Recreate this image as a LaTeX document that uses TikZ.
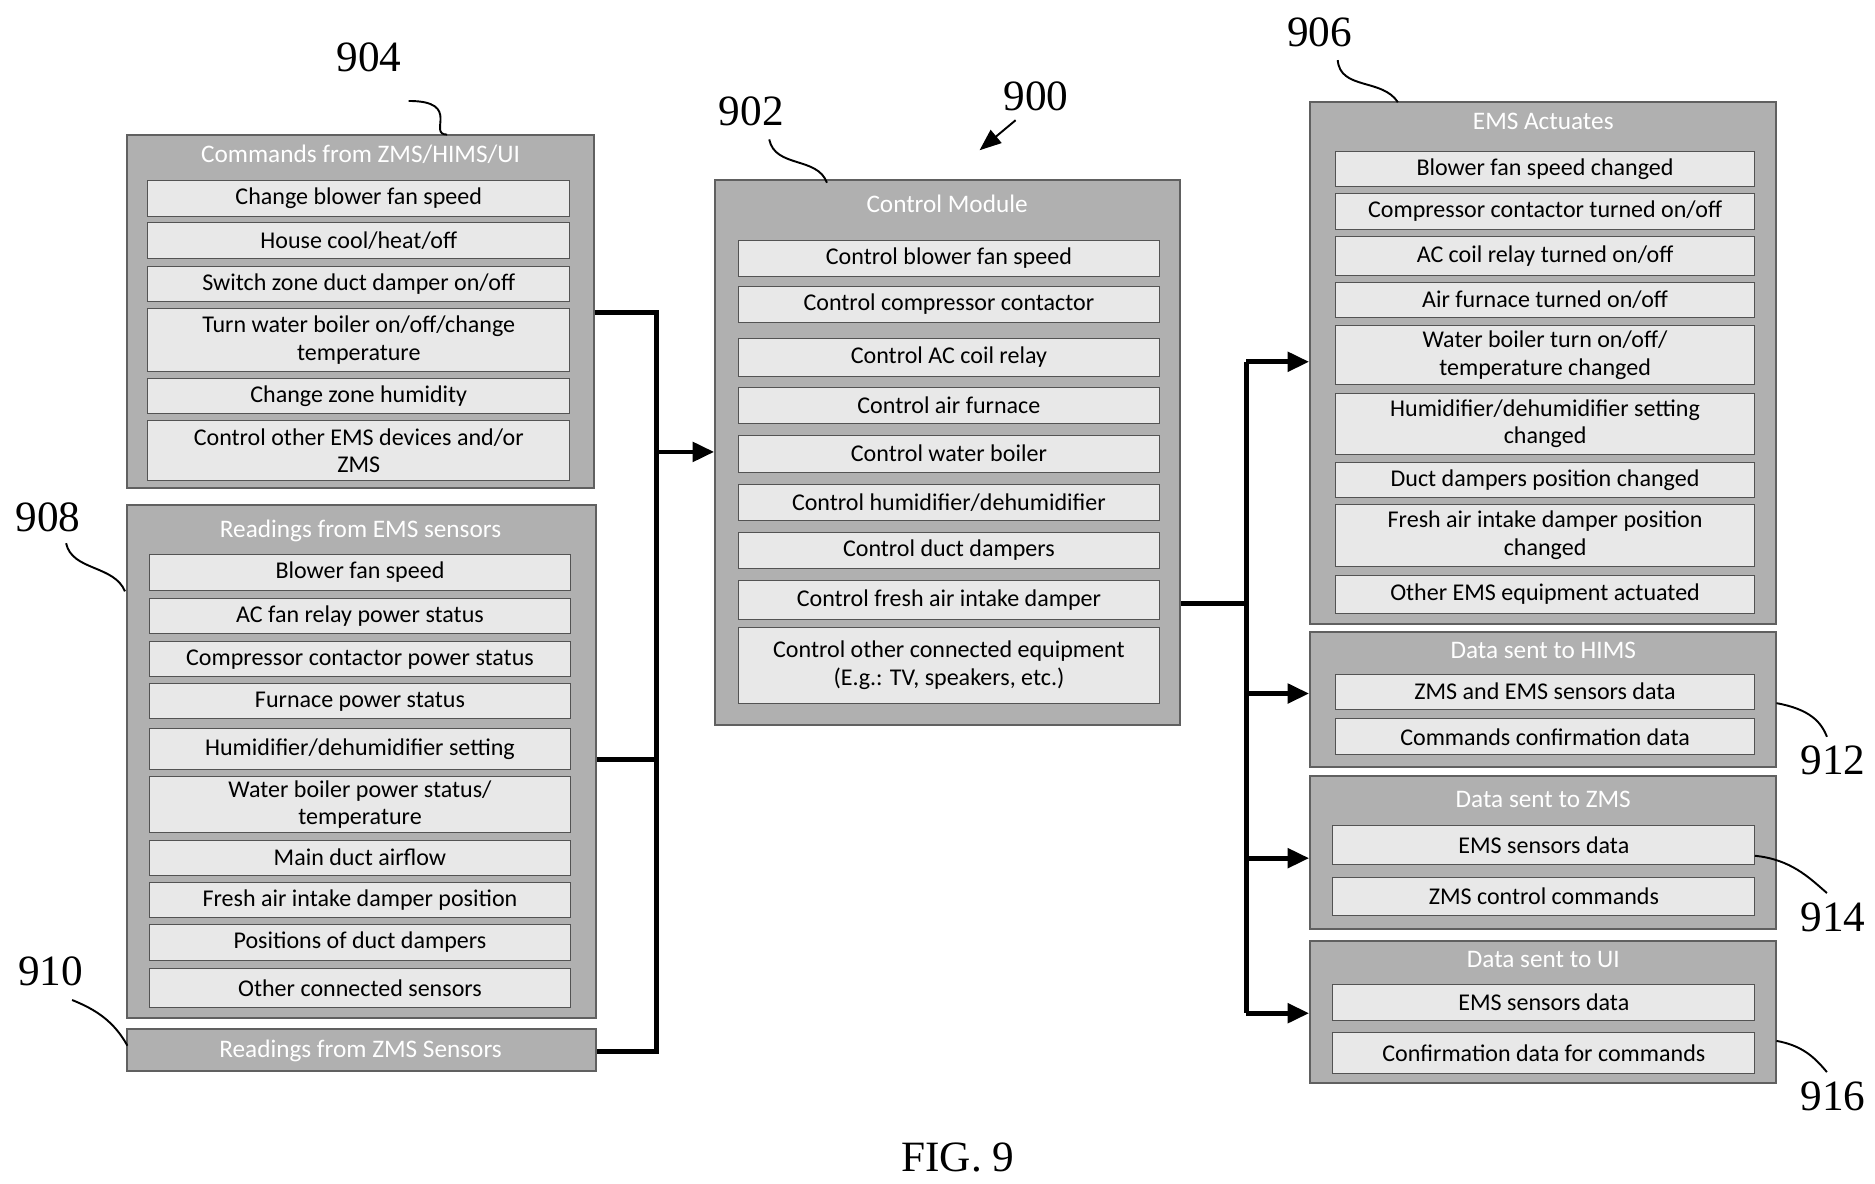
\documentclass[tikz,border=0pt]{standalone}
\usepackage{fontspec}
\setmainfont{Liberation Serif}
\newfontfamily\calib{Carlito}
\usetikzlibrary{arrows.meta}
\newcommand{\entryfont}{\calib\fontsize{10}{11.5}\selectfont}
\newcommand{\headfont}{\calib\fontsize{10.5}{12}\selectfont}
\newcommand{\tagfont}{\fontsize{18}{20}\selectfont}
\tikzset{
    panel/.style={draw=gray!75!black, fill=gray!62, line width=0.8pt, inner sep=0pt}, % outer grey boxes
    entry/.style={draw=gray!65!black, fill=gray!18, align=center, inner sep=0pt, font=\entryfont}, % rows
    heading/.style={text=white, font=\headfont},
    link/.style={line width=2pt},
    feed/.style={link, -{Triangle[length=9pt,width=8pt]}},
    tag/.style={font=\tagfont},
    lead/.style={line width=0.8pt},
}
% name, x1, x2, y1, y2
\newcommand{\drawpanel}[5]{\node[panel, minimum width={(#3-#2)*0.5pt}, minimum height={(#5-#4)*0.5pt}] (#1) at ({(#2+#3)/2},{(#4+#5)/2}) {};}
% name, x1, x2, y1, y2, text
\newcommand{\drawentry}[6]{\node[entry, minimum width={(#3-#2)*0.5pt}, minimum height={(#5-#4)*0.5pt}] (#1) at ({(#2+#3)/2},{(#4+#5)/2}) {#6};}
\begin{document}
\begin{tikzpicture}[x=0.5pt, y=-0.5pt]
\useasboundingbox (0,0) rectangle (1560,985);
% left column
\drawpanel{cmds}{106}{494}{112}{406}
\node[heading] (cmds-t) at (300,128) {Commands from ZMS/HIMS/UI};
\foreach \t/\b/\txt in {150/180/{Change blower fan speed}, 185/215/{House cool/heat/off}, 222/251/{Switch zone duct damper on/off},
    257/309/{Turn water boiler on/off/change\\temperature}, 315/344/{Change zone humidity}, 350/400/{Control other EMS devices and/or\\ZMS}}
    {\drawentry{cmds-\t}{123}{474}{\t}{\b}{\txt}}

\drawpanel{ems}{106}{496}{420}{847}
\node[heading] (ems-t) at (300,442) {Readings from EMS sensors};
\foreach \t/\b/\txt in {461/491/{Blower fan speed}, 498/527/{AC fan relay power status}, 534/563/{Compressor contactor power status},
    569/598/{Furnace power status}, 606/640/{Humidifier/dehumidifier setting}, 646/693/{Water boiler power status/\\temperature},
    699/728/{Main duct airflow}, 734/763/{Fresh air intake damper position}, 769/799/{Positions of duct dampers}, 806/838/{Other connected sensors}}
    {\drawentry{ems-\t}{124}{475}{\t}{\b}{\txt}}

\drawpanel{zms}{106}{496}{856}{891}
\node[heading] (zms-t) at (300,874) {Readings from ZMS Sensors};

% control module
\drawpanel{ctrl}{595}{982}{150}{603}
\node[heading] (ctrl-t) at (788,170) {Control Module};
\foreach \t/\b/\txt in {200/230/{Control blower fan speed}, 238/268/{Control compressor contactor}, 282/313/{Control AC coil relay},
    322/352/{Control air furnace}, 362/393/{Control water boiler}, 403/433/{Control humidifier/dehumidifier},
    443/473/{Control duct dampers}, 483/515/{Control fresh air intake damper}, 522/585/{Control other connected equipment\\(E.g.: TV, speakers, etc.)}}
    {\drawentry{ctrl-\t}{614}{965}{\t}{\b}{\txt}}

% right column
\drawpanel{act}{1090}{1478}{85}{519}
\node[heading] (act-t) at (1284,101) {EMS Actuates};
\foreach \t/\b/\txt in {126/155/{Blower fan speed changed}, 161/191/{Compressor contactor turned on/off}, 197/229/{AC coil relay turned on/off},
    235/264/{Air furnace turned on/off}, 271/320/{Water boiler turn on/off/\\temperature changed}, 327/378/{Humidifier/dehumidifier setting\\changed},
    385/414/{Duct dampers position changed}, 420/471/{Fresh air intake damper position\\changed}, 479/510/{Other EMS equipment actuated}}
    {\drawentry{act-\t}{1111}{1460}{\t}{\b}{\txt}}

\drawpanel{hims}{1090}{1478}{526}{638}
\node[heading] (hims-t) at (1284,541) {Data sent to HIMS};
\drawentry{hims-a}{1111}{1460}{561}{590}{ZMS and EMS sensors data}
\drawentry{hims-b}{1111}{1460}{598}{628}{Commands confirmation data}

\drawpanel{tozms}{1090}{1478}{646}{773}
\node[heading] (tozms-t) at (1284,665) {Data sent to ZMS};
\drawentry{tozms-a}{1109}{1460}{687}{719}{EMS sensors data}
\drawentry{tozms-b}{1109}{1460}{730}{762}{ZMS control commands}

\drawpanel{toui}{1090}{1478}{783}{901}
\node[heading] (toui-t) at (1284,798) {Data sent to UI};
\drawentry{toui-a}{1109}{1460}{819}{849}{EMS sensors data}
\drawentry{toui-b}{1109}{1460}{859}{893}{Confirmation data for commands}

% connectors
\coordinate (inbus) at (546,376);
\coordinate (outbus) at (1037,502);
\draw[link] (cmds.east |- 0,260) -| (546,875) -- (zms.east |- 0,875);
\draw[link] (ems.east |- 0,632) -- (546,632);
\draw[feed] (inbus) -- (ctrl.west |- inbus);
\draw[link] (ctrl.east |- outbus) -- (outbus);
\draw[link] (1037,301) -- (1037,843);
\foreach \n/\y in {act/301, hims/577, tozms/714, toui/843}
    {\draw[feed] (1037,\y) -- (\n.west |- 0,\y);}

% reference numerals
\node[tag] (n904) at (307,48) {904};
\draw[lead] (340,84) .. controls (385,84) and (355,112) .. (372,112);
\node[tag] (n902) at (625,93) {902};
\draw[lead] (640,116) .. controls (645,140) and (680,130) .. (688,152);
\node[tag] (n900) at (862,80) {900};
\draw[lead, -{Triangle[length=9pt,width=7pt]}] (845,100) -- (815,125);
\node[tag] (n906) at (1098,27) {906};
\draw[lead] (1113,50) .. controls (1115,75) and (1150,65) .. (1163,85);
\node[tag] (n908) at (40,430) {908};
\draw[lead] (55,452) .. controls (60,475) and (95,470) .. (104,492);
\node[tag] (n910) at (42,808) {910};
\draw[lead] (60,832) .. controls (80,840) and (95,850) .. (106,870);
\node[tag] (n912) at (1525,633) {912};
\draw[lead] (1478,585) .. controls (1505,590) and (1515,600) .. (1520,613);
\node[tag] (n914) at (1525,763) {914};
\draw[lead] (1460,712) .. controls (1490,715) and (1505,730) .. (1520,743);
\node[tag] (n916) at (1525,912) {916};
\draw[lead] (1478,866) .. controls (1500,870) and (1510,880) .. (1520,892);
\node[tag] (fig) at (797,963) {FIG. 9};
\end{tikzpicture}
\end{document}
